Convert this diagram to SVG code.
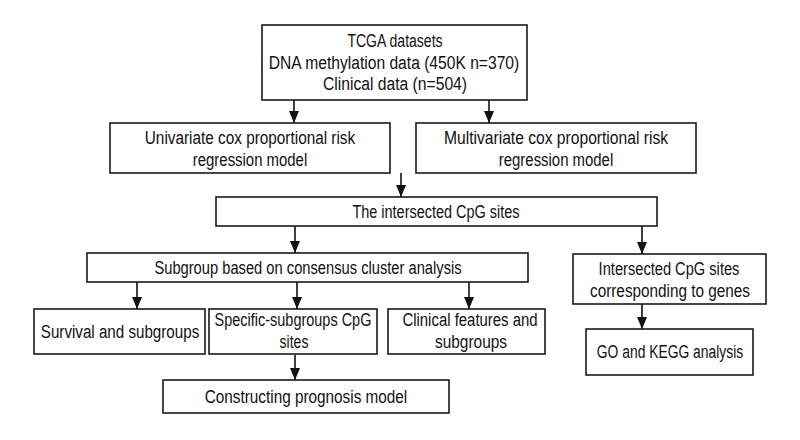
<svg xmlns="http://www.w3.org/2000/svg" width="800" height="440" viewBox="0 0 800 440">
<style>
.box{fill:#fff;stroke:#1a1a1a;stroke-width:1.6}
.t{font-family:"Liberation Sans",Arial,sans-serif;font-size:19px;fill:#111;text-anchor:middle}
.c{stroke:#111;stroke-width:1.6;fill:none}
</style>
<defs>
<marker id="ah" markerWidth="12" markerHeight="10" refX="12" refY="5" orient="auto" markerUnits="userSpaceOnUse">
<path d="M0,0 L12,5 L0,10 Z" fill="#111"/>
</marker>
</defs>
<rect width="800" height="440" fill="#fff"/>
<g id="connectors">
<line class="c" x1="294" y1="100" x2="294" y2="123" marker-end="url(#ah)"/>
<line class="c" x1="489" y1="100" x2="489" y2="123" marker-end="url(#ah)"/>
<line class="c" x1="401" y1="173" x2="401" y2="197" marker-end="url(#ah)"/>
<line class="c" x1="295" y1="226" x2="295" y2="253" marker-end="url(#ah)"/>
<line class="c" x1="642" y1="226" x2="642" y2="254" marker-end="url(#ah)"/>
<line class="c" x1="137" y1="282" x2="137" y2="309" marker-end="url(#ah)"/>
<line class="c" x1="297" y1="282" x2="297" y2="309" marker-end="url(#ah)"/>
<line class="c" x1="469" y1="282" x2="469" y2="309" marker-end="url(#ah)"/>
<line class="c" x1="642" y1="304" x2="642" y2="329" marker-end="url(#ah)"/>
<line class="c" x1="295" y1="355" x2="295" y2="380" marker-end="url(#ah)"/>
</g>
<g id="tcga">
<rect class="box" x="262" y="25" width="265" height="75"/>
<text class="t" transform="translate(395,47) scale(0.8,1)" textLength="119" lengthAdjust="spacingAndGlyphs">TCGA datasets</text>
<text class="t" transform="translate(394,68.5) scale(0.8,1)" textLength="313" lengthAdjust="spacingAndGlyphs">DNA methylation data (450K n=370)</text>
<text class="t" transform="translate(395,90) scale(0.8,1)" textLength="180" lengthAdjust="spacingAndGlyphs">Clinical data (n=504)</text>
</g>
<g id="univariate">
<rect class="box" x="110" y="123" width="280" height="50"/>
<text class="t" transform="translate(250,144) scale(0.8,1)" textLength="263" lengthAdjust="spacingAndGlyphs">Univariate cox proportional risk</text>
<text class="t" transform="translate(250,166) scale(0.8,1)" textLength="143" lengthAdjust="spacingAndGlyphs">regression model</text>
</g>
<g id="multivariate">
<rect class="box" x="416" y="123" width="280" height="50"/>
<text class="t" transform="translate(556,144) scale(0.8,1)" textLength="280" lengthAdjust="spacingAndGlyphs">Multivariate cox proportional risk</text>
<text class="t" transform="translate(556,166) scale(0.8,1)" textLength="143" lengthAdjust="spacingAndGlyphs">regression model</text>
</g>
<g id="intersected">
<rect class="box" x="216" y="197" width="441" height="29"/>
<text class="t" transform="translate(436,218) scale(0.8,1)" textLength="209" lengthAdjust="spacingAndGlyphs">The intersected CpG sites</text>
</g>
<g id="subgroup">
<rect class="box" x="87" y="253" width="441" height="29"/>
<text class="t" transform="translate(308,274) scale(0.8,1)" textLength="384" lengthAdjust="spacingAndGlyphs">Subgroup based on consensus cluster analysis</text>
</g>
<g id="genes">
<rect class="box" x="573" y="254" width="193" height="50"/>
<text class="t" transform="translate(669,275) scale(0.8,1)" textLength="176" lengthAdjust="spacingAndGlyphs">Intersected CpG sites</text>
<text class="t" transform="translate(670,297) scale(0.8,1)" textLength="200" lengthAdjust="spacingAndGlyphs">corresponding to genes</text>
</g>
<g id="survival">
<rect class="box" x="34" y="309" width="171" height="45"/>
<text class="t" transform="translate(120,338) scale(0.8,1)" textLength="198" lengthAdjust="spacingAndGlyphs">Survival and subgroups</text>
</g>
<g id="specific">
<rect class="box" x="209" y="309" width="168" height="45"/>
<text class="t" transform="translate(293,326) scale(0.8,1)" textLength="196" lengthAdjust="spacingAndGlyphs">Specific-subgroups CpG</text>
<text class="t" transform="translate(294,348) scale(0.8,1)" textLength="36" lengthAdjust="spacingAndGlyphs">sites</text>
</g>
<g id="clinical">
<rect class="box" x="388" y="309" width="157" height="45"/>
<text class="t" transform="translate(470,326) scale(0.8,1)" textLength="169" lengthAdjust="spacingAndGlyphs">Clinical features and</text>
<text class="t" transform="translate(471,348) scale(0.8,1)" textLength="90" lengthAdjust="spacingAndGlyphs">subgroups</text>
</g>
<g id="go">
<rect class="box" x="586" y="329" width="167" height="46"/>
<text class="t" transform="translate(670,358) scale(0.8,1)" textLength="183" lengthAdjust="spacingAndGlyphs">GO and KEGG analysis</text>
</g>
<g id="prognosis">
<rect class="box" x="163" y="380" width="286" height="33"/>
<text class="t" transform="translate(306,403) scale(0.8,1)" textLength="253" lengthAdjust="spacingAndGlyphs">Constructing prognosis model</text>
</g>
</svg>
